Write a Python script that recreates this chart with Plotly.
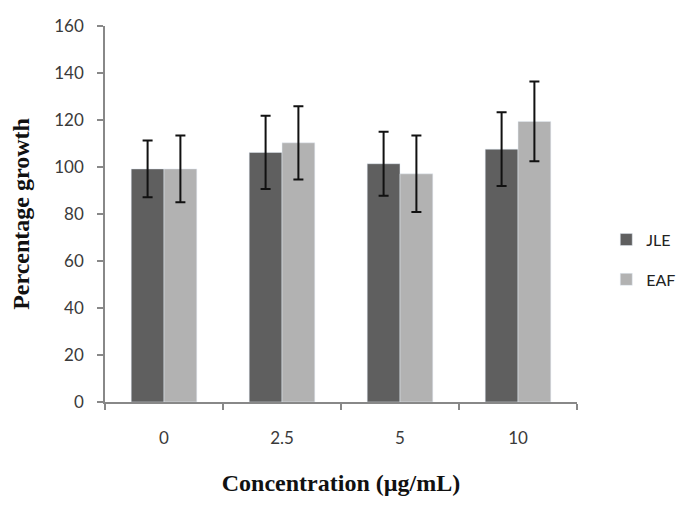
import plotly.graph_objects as go

categories = ["0", "2.5", "5", "10"]
jle_values = [99.2, 106.2, 101.4, 107.6]
jle_errors = [12.1, 15.6, 13.6, 15.7]
eaf_values = [99.2, 110.3, 97.1, 119.4]
eaf_errors = [14.2, 15.6, 16.3, 17.0]
y_ticks = [0, 20, 40, 60, 80, 100, 120, 140, 160]

# the page body has an 8px default margin, so the figure is 8px smaller
W, H = 680, 498
L, R, T, B = 97, 94, 7, 104
pw, ph = W - L - R, H - T - B

fig = go.Figure()
fig.add_trace(go.Bar(
    name="JLE", x=categories, y=jle_values, marker_color="#5f5f5f",
    error_y=dict(type="data", array=jle_errors, color="#111111", thickness=2, width=5),
    legendgroup="a",
))
fig.add_trace(go.Bar(
    name="EAF", x=categories, y=eaf_values, marker_color="#b2b2b2",
    error_y=dict(type="data", array=eaf_errors, color="#111111", thickness=2, width=5),
    legendgroup="b",
))

tick_font = dict(family="Lato, Open Sans, sans-serif", size=17, color="#3a3a3a")
title_font = dict(family="Liberation Serif, Times New Roman, serif", size=24, color="#111111", weight="bold")

fig.update_layout(
    width=W, height=H,
    margin=dict(l=L, r=R, t=T, b=B, pad=0),
    paper_bgcolor="white", plot_bgcolor="white",
    barmode="group", bargap=0.444, bargroupgap=0,
    showlegend=True,
    legend=dict(x=1.062, y=0.477, xanchor="left", yanchor="top",
                font=dict(family="Lato, Open Sans, sans-serif", size=16, color="#222222"),
                tracegroupgap=16, itemwidth=30, bgcolor="rgba(0,0,0,0)"),
    xaxis=dict(
        type="category", showline=True, linecolor="#888888", linewidth=1.5,
        ticks="outside", ticklen=6, tickcolor="#888888", tickwidth=1.5,
        tickson="boundaries", tickfont=tick_font, ticklabelstandoff=20,
        showgrid=False, zeroline=False,
        title=dict(text="Concentration (µg/mL)", font=title_font, standoff=27),
    ),
    yaxis=dict(
        range=[0, 160], tickvals=y_ticks, showline=True, linecolor="#888888", linewidth=1.5,
        ticks="outside", ticklen=6, tickcolor="#888888", tickwidth=1.5,
        tickfont=tick_font, ticklabelstandoff=10, ticklabeloverflow="allow",
        showgrid=False, zeroline=False,
        title=dict(text="Percentage growth", font=title_font, standoff=22),
    ),
)

fig.write_html("out.html")
